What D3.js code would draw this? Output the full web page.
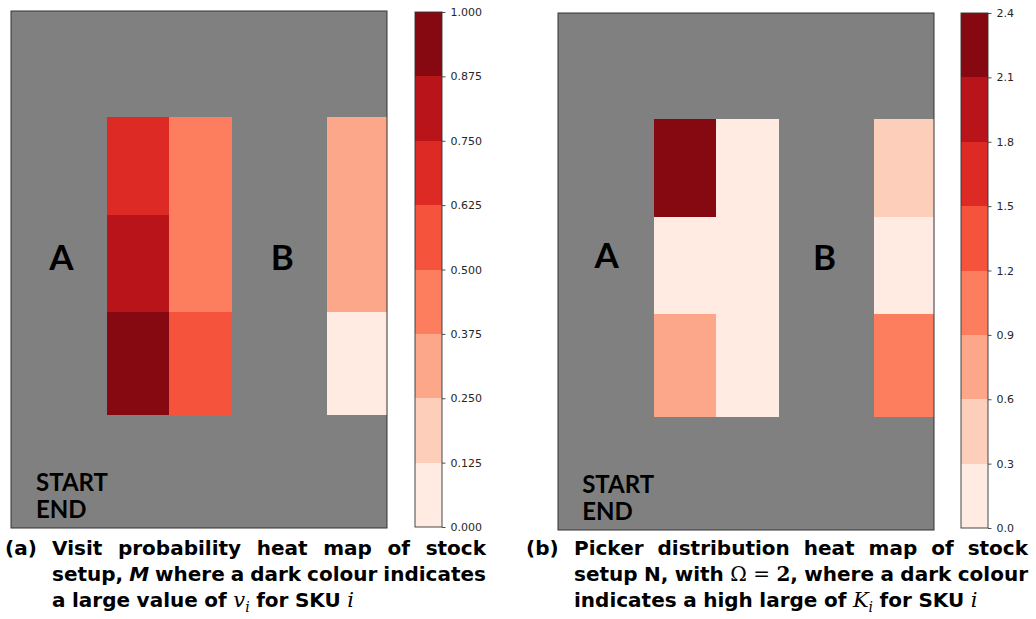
<!DOCTYPE html>
<html>
<head>
<meta charset="utf-8">
<script src="https://cdn.jsdelivr.net/npm/d3@7"></script>
<style>
  html, body { margin: 0; padding: 0; background: #fff; }
  svg { display: block; }
  .tick text { font-family: "DejaVu Sans", sans-serif; font-size: 11px; fill: #262626; }
  .tick line { stroke: #262626; stroke-width: 0.8; }
  .lbl { font-family: Lato, "Open Sans", sans-serif; font-weight: 700; fill: #000; }
  .cap { font-family: "DejaVu Sans", sans-serif; font-weight: 700; font-size: 20px; fill: #000; }
  .mi { font-family: "DejaVu Serif", "Liberation Serif", serif; font-style: italic; font-weight: 400; }
  .mr { font-family: "DejaVu Serif", "Liberation Serif", serif; font-weight: 400; }
  .mb { font-family: "DejaVu Serif", "Liberation Serif", serif; font-weight: 700; }
</style>
</head>
<body>
<svg id="chart" width="1036" height="619"></svg>
<script>
// ---------------- data ----------------
const racks = ["A1", "A2", "B"];
// rack column spans and row edges in warehouse grid units (12 x 16.5 grid)
const rackSpan = [[3.06, 5.03], [5.03, 7.06], [10.09, 12]];
const rowEdges = [3.39, 6.5, 9.62, 12.9];

// (a) visit probability v_i, rows top -> bottom
const visitA1 = [0.70, 0.80, 0.95];
const visitA2 = [0.45, 0.45, 0.55];
const visitB  = [0.30, 0.30, 0.05];

// (b) picker distribution K_i, rows top -> bottom
const pickA1 = [2.25, 0.10, 0.75];
const pickA2 = [0.10, 0.10, 0.10];
const pickB  = [0.45, 0.10, 1.05];

const visitTicks = [0, 0.125, 0.25, 0.375, 0.5, 0.625, 0.75, 0.875, 1.0];
const pickTicks  = [0, 0.3, 0.6, 0.9, 1.2, 1.5, 1.8, 2.1, 2.4];

const areaLabels = ["A", "B", "START", "END"];

// ---------------- colours (matplotlib "Reds") ----------------
const brewerReds = ["#fff5f0","#fee0d2","#fcbba1","#fc9272","#fb6a4a","#ef3b2c","#cb181d","#a50f15","#67000d"];
const reds = d3.scaleLinear()
  .domain(d3.range(9).map(i => i / 8))
  .range(brewerReds)
  .interpolate(d3.interpolateRgb);

const svg = d3.select("#chart");

const panels = [
  { values: [visitA1, visitA2, visitB], ticks: visitTicks, fmt: d3.format(".3f"),
    box: { x0: 11, x1: 387, y0: 11, y1: 528 },
    cb: { x0: 415, x1: 442, y0: 12, y1: 527 },
    labelPos: [[1.61, 8.27], [8.66, 8.27], [0.8, 15.32], [0.8, 16.18]] },
  { values: [pickA1, pickA2, pickB], ticks: pickTicks, fmt: d3.format(".1f"),
    box: { x0: 558, x1: 934, y0: 13, y1: 530 },
    cb: { x0: 961, x1: 988, y0: 13, y1: 528 },
    labelPos: [[1.55, 8.14], [8.51, 8.2], [0.77, 15.32], [0.77, 16.18]] }
];

panels.forEach(p => {
  const tmin = p.ticks[0], tmax = p.ticks[p.ticks.length - 1];
  const nb = p.ticks.length - 1;
  const step = (tmax - tmin) / nb;
  const band = v => Math.max(0, Math.min(nb - 1, Math.floor((v - tmin) / step)));
  const colorOf = v => reds((band(v) + 0.5) / nb);

  const x = d3.scaleLinear().domain([0, 12]).range([p.box.x0, p.box.x1]);
  const y = d3.scaleLinear().domain([0, 16.5]).range([p.box.y0, p.box.y1]);

  const g = svg.append("g");
  g.append("rect")
    .attr("x", p.box.x0).attr("y", p.box.y0)
    .attr("width", p.box.x1 - p.box.x0).attr("height", p.box.y1 - p.box.y0)
    .attr("fill", "#808080");

  const cells = [];
  racks.forEach((r, ri) => {
    p.values[ri].forEach((v, k) => {
      cells.push({ r, v, c0: rackSpan[ri][0], c1: rackSpan[ri][1], r0: rowEdges[k], r1: rowEdges[k + 1] });
    });
  });
  g.selectAll("rect.cell").data(cells).join("rect")
    .attr("class", "cell")
    .attr("shape-rendering", "crispEdges")
    .attr("x", d => x(d.c0)).attr("y", d => y(d.r0))
    .attr("width", d => x(d.c1) - x(d.c0)).attr("height", d => y(d.r1) - y(d.r0))
    .attr("fill", d => colorOf(d.v));

  // labels
  areaLabels.forEach((t, i) => {
    const big = i < 2;
    g.append("text").attr("class", "lbl")
      .attr("x", x(p.labelPos[i][0])).attr("y", y(p.labelPos[i][1]))
      .attr("text-anchor", big ? "middle" : "start")
      .attr("font-size", big ? 35 : 24)
      .text(t);
  });

  g.append("rect")
    .attr("x", p.box.x0).attr("y", p.box.y0)
    .attr("width", p.box.x1 - p.box.x0).attr("height", p.box.y1 - p.box.y0)
    .attr("fill", "none").attr("stroke", "#333").attr("stroke-width", 1);

  // colorbar
  const cy = d3.scaleLinear().domain([tmin, tmax]).range([p.cb.y1, p.cb.y0]);
  const cbg = svg.append("g");
  cbg.selectAll("rect").data(d3.range(nb)).join("rect")
    .attr("shape-rendering", "crispEdges")
    .attr("x", p.cb.x0).attr("width", p.cb.x1 - p.cb.x0)
    .attr("y", i => cy(p.ticks[i + 1])).attr("height", i => cy(p.ticks[i]) - cy(p.ticks[i + 1]))
    .attr("fill", i => reds((i + 0.5) / nb));
  cbg.append("rect")
    .attr("x", p.cb.x0).attr("y", p.cb.y0)
    .attr("width", p.cb.x1 - p.cb.x0).attr("height", p.cb.y1 - p.cb.y0)
    .attr("fill", "none").attr("stroke", "#333").attr("stroke-width", 0.9);
  const ax = svg.append("g").attr("transform", `translate(${p.cb.x1},0)`)
    .call(d3.axisRight(cy).tickValues(p.ticks).tickFormat(p.fmt).tickSize(3.5).tickPadding(5));
  ax.select(".domain").remove();
});

// ---------------- captions ----------------
function W(...segs) { return segs.map(s => typeof s === "string" ? { t: s } : s); }
const mi = t => ({ t, cls: "mi" });
const sub = t => ({ t, cls: "mi", sub: true });

const captionA = {
  tag: "(a)", tagX: 5, x0: 52, x1: 486,
  lines: [
    { justify: true, words: [W("Visit"), W("probability"), W("heat"), W("map"), W("of"), W("stock")] },
    { justify: true, words: [W("setup,"), W({ t: "M", italic: true }), W("where"), W("a"), W("dark"), W("colour"), W("indicates")] },
    { justify: false, words: [W("a"), W("large"), W("value"), W("of"), W(mi("v"), sub("i")), W("for"), W("SKU"), W(mi("i"))] }
  ]
};
const captionB = {
  tag: "(b)", tagX: 526, x0: 574, x1: 1028,
  lines: [
    { justify: true, words: [W("Picker"), W("distribution"), W("heat"), W("map"), W("of"), W("stock")] },
    { justify: true, words: [W("setup"), W("N,"), W("with"), W({ t: "Ω", cls: "mr" }), W({ t: "=", cls: "mr" }), W({ t: "2", cls: "mb" }, ","), W("where"), W("a"), W("dark"), W("colour")] },
    { justify: false, words: [W("indicates"), W("a"), W("high"), W("large"), W("of"), W(mi("K"), sub("i")), W("for"), W("SKU"), W(mi("i"))] }
  ]
};
const baselines = [555, 581, 607];

[captionA, captionB].forEach(c => {
  const g = svg.append("g");
  g.append("text").attr("class", "cap").attr("x", c.tagX).attr("y", baselines[0]).text(c.tag);
  c.lines.forEach((ln, li) => {
    const items = ln.words.map(segs => {
      const t = g.append("text").attr("class", "cap").attr("y", baselines[li]);
      segs.forEach(s => {
        const ts = t.append("tspan").text(s.t);
        if (s.cls) ts.attr("class", s.cls);
        if (s.italic) ts.attr("font-style", "italic");
        if (s.cls === "mi" && !s.sub) ts.attr("font-size", 21);
        if (s.sub) ts.attr("font-size", 14).attr("dy", 5);
      });
      return { t, w: t.node().getComputedTextLength() };
    });
    const total = d3.sum(items, d => d.w);
    const gap = ln.justify ? (c.x1 - c.x0 - total) / (items.length - 1) : 6.5;
    let xx = c.x0;
    items.forEach(it => { it.t.attr("x", xx); xx += it.w + Math.max(gap, 3); });
  });
});
</script>
</body>
</html>
